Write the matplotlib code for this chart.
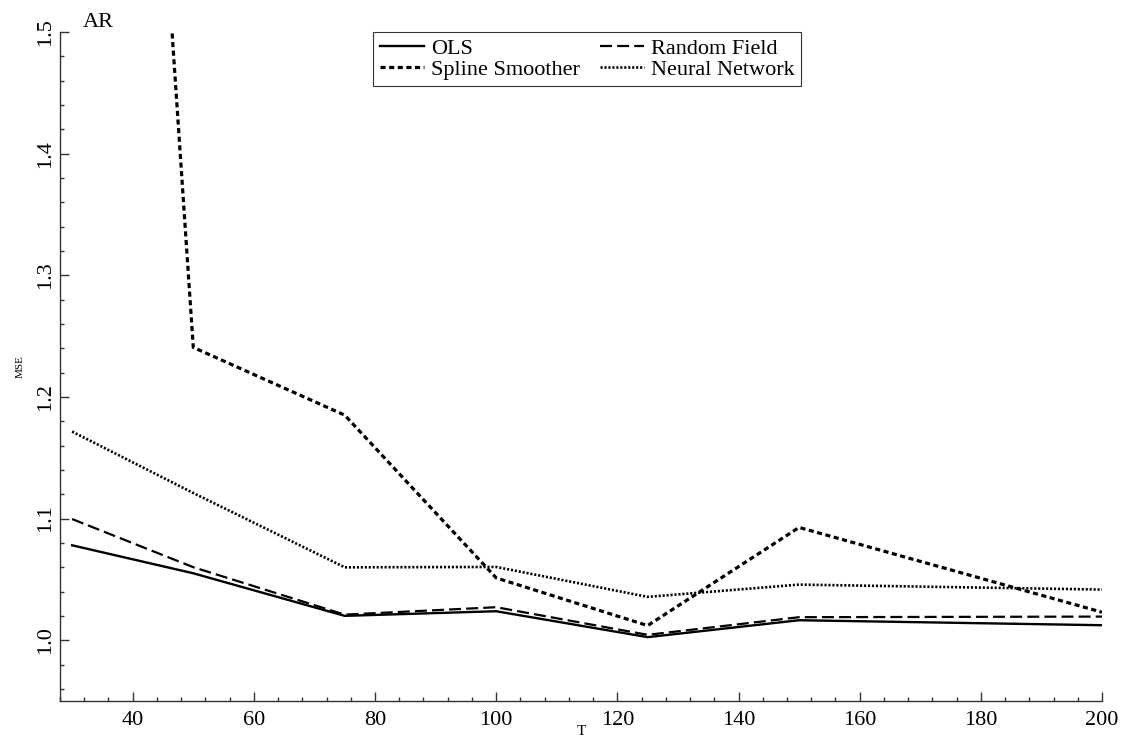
import matplotlib
matplotlib.use("Agg")
import matplotlib.pyplot as plt
from matplotlib.ticker import MultipleLocator, FormatStrFormatter

T = [30, 50, 75, 100, 125, 150, 200]
ols = [1.078, 1.055, 1.020, 1.0238, 1.0025, 1.0164, 1.0123]
random_field = [1.0996, 1.060, 1.021, 1.0271, 1.0044, 1.0189, 1.0194]
spline = [2.72, 1.2407, 1.185, 1.0512, 1.012, 1.0927, 1.023]
neural = [1.1715, 1.121, 1.0599, 1.0602, 1.0356, 1.0457, 1.0416]

plt.rcParams['font.family'] = ['Liberation Serif', 'DejaVu Serif']

fig = plt.figure(figsize=(11.24, 7.43), dpi=100)
ax = fig.add_axes([60/1124, 1-701/743, (1102-60)/1124, (701-32)/743])

ax.plot(T, ols, color='black', lw=1.7, linestyle='-', label='OLS')
ax.plot(T, spline, color='black', lw=2.3, linestyle=(0, (1.6, 1.1)), label='Spline Smoother')
ax.plot(T, random_field, color='black', lw=1.6, linestyle=(0, (5.4, 2.3)), label='Random Field')
ax.plot(T, neural, color='black', lw=1.9, linestyle=(0, (0.8, 0.7)), label='Neural Network')

ax.set_xlim(28, 200)
ax.set_ylim(0.95, 1.5)
ax.xaxis.set_major_locator(MultipleLocator(20))
ax.xaxis.set_minor_locator(MultipleLocator(4))
ax.yaxis.set_major_locator(MultipleLocator(0.1))
ax.yaxis.set_minor_locator(MultipleLocator(0.02))
ax.yaxis.set_major_formatter(FormatStrFormatter('%.1f'))

for s in ['top', 'right']:
    ax.spines[s].set_visible(False)
for s in ['left', 'bottom']:
    ax.spines[s].set_color('#333333')
    ax.spines[s].set_linewidth(1.0)

ax.tick_params(which='both', direction='in', color='#333333', width=1.0)
ax.tick_params(which='major', length=6.5, labelsize=16)
ax.tick_params(axis='x', which='major', pad=7)
ax.tick_params(axis='y', which='major', pad=3.5)
ax.tick_params(which='minor', length=3.2)
for lab in ax.get_yticklabels():
    lab.set_rotation(90)
    lab.set_va('center')

ax.set_xlabel('T', fontsize=11)
ax.set_ylabel('MSE', fontsize=8)
ax.xaxis.set_label_coords(0.5, -0.036)
ax.yaxis.set_label_coords(-0.034, 0.5)

fig.text(83/1124, 1-27/743, 'AR', fontsize=16, ha='left', va='baseline')

leg = ax.legend(loc='upper left', bbox_to_anchor=(373/1124, 1-32/743),
                bbox_transform=fig.transFigure, ncol=2, fontsize=16,
                frameon=True, fancybox=False, borderaxespad=0,
                handlelength=2.0, handletextpad=0.3, columnspacing=0.9,
                labelspacing=0.0, borderpad=0.3)
leg.get_frame().set_edgecolor('black')
leg.get_frame().set_linewidth(0.8)

fig.savefig('out.png', dpi=100)
